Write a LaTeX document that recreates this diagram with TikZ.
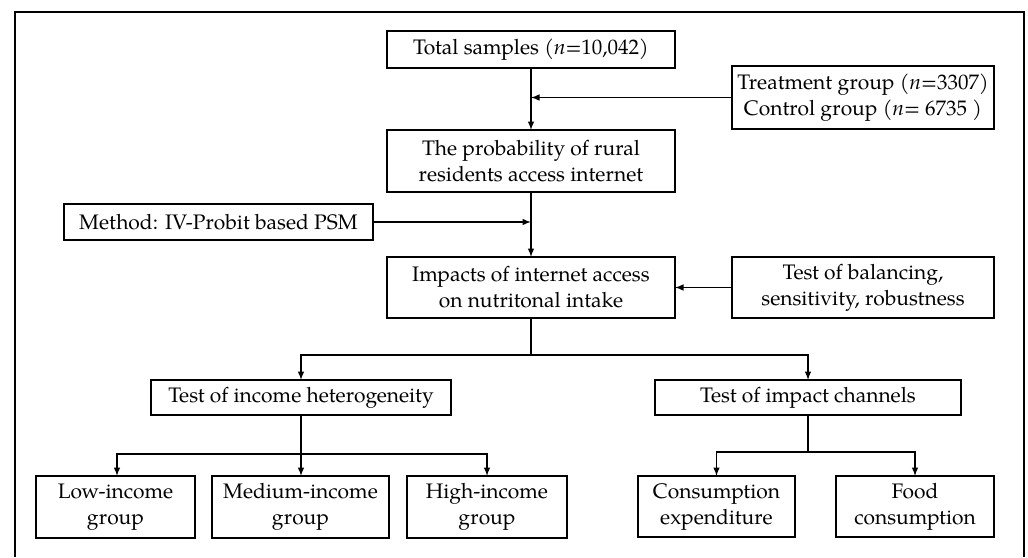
\documentclass[tikz,border=0pt]{standalone}
\usepackage{fontspec}
\setmainfont{TeX Gyre Pagella}
\usepackage{tikz}
\usetikzlibrary{positioning,calc}

\begin{document}
\begin{tikzpicture}[x=1pt,y=-1pt]
\tikzstyle{stage}=[draw,outer sep=0pt,line width=1.9pt,align=center,inner sep=2pt,font=\fontsize{21}{26}\selectfont]
\tikzstyle{flow}=[-latex,line width=1.9pt]

\useasboundingbox (0,0) rectangle (1028,557);
\draw [line width=2.8pt] (15,557) -- (15,12) -- (1024,12) -- (1024,557);

\node (total) [stage,minimum width=288pt,minimum height=37pt] at (531,49.5) {Total samples (\textit{n}=10,042)};
\node (treat) [stage,minimum width=262pt,minimum height=63pt] at (863,97.5) {Treatment group (\textit{n}=3307)\\Control group (\textit{n}= 6735 )};
\node (prob) [stage,minimum width=288pt,minimum height=62pt] at (531,161) {The probability of rural\\residents access internet};
\node (method) [stage,minimum width=309pt,minimum height=36pt] at (218.5,222) {Method: IV-Probit based PSM};
\node (impact) [stage,minimum width=288pt,minimum height=61pt] at (531,287.5) {Impacts of internet access\\on nutritonal intake};
\node (balance) [stage,minimum width=262pt,minimum height=61pt] at (863,287.5) {Test of balancing,\\sensitivity, robustness};

\node (income) [stage,minimum width=300pt,minimum height=35pt] at (301,397.5) {Test of income heterogeneity};
\node (channel) [stage,minimum width=306pt,minimum height=35pt] at (808,397.5) {Test of impact channels};

\node (low) [stage,minimum width=159pt,minimum height=62pt] at (115.5,507) {Low-income\\group};
\node (medium) [stage,minimum width=177pt,minimum height=62pt] at (300.5,507) {Medium-income\\group};
\node (high) [stage,minimum width=160pt,minimum height=62pt] at (487,507) {High-income\\group};
\node (spend) [stage,minimum width=157pt,minimum height=61pt] at (716.5,506.5) {Consumption\\expenditure};
\node (food) [stage,minimum width=158pt,minimum height=61pt] at (915,506.5) {Food\\consumption};

% main trunk
\draw [flow] (total.south) -- (prob.north);
\draw [flow] (treat.west) -- (treat.west -| total.south);
\draw [flow] (prob.south) -- (impact.north);
\draw [flow] (method.east) -- (method.east -| prob.south);
\draw [flow] (balance.west) -- (impact.east);

% branches
\draw [flow] (impact.south) -- ++(0,37) -| (income.north);
\draw [flow] (impact.south) -- ++(0,37) -| (channel.north);

\draw [flow] (income.south) -- ++(0,39) -| ($(low.north)+(1.5,0)$);
\draw [flow] (income.south) -- (medium.north -| income.south);
\draw [flow] (income.south) -- ++(0,39) -| (high.north);

\draw [flow] (channel.south) -- ++(0,37) -| (spend.north);
\draw [flow] (channel.south) -- ++(0,37) -| (food.north);
\end{tikzpicture}
\end{document}
